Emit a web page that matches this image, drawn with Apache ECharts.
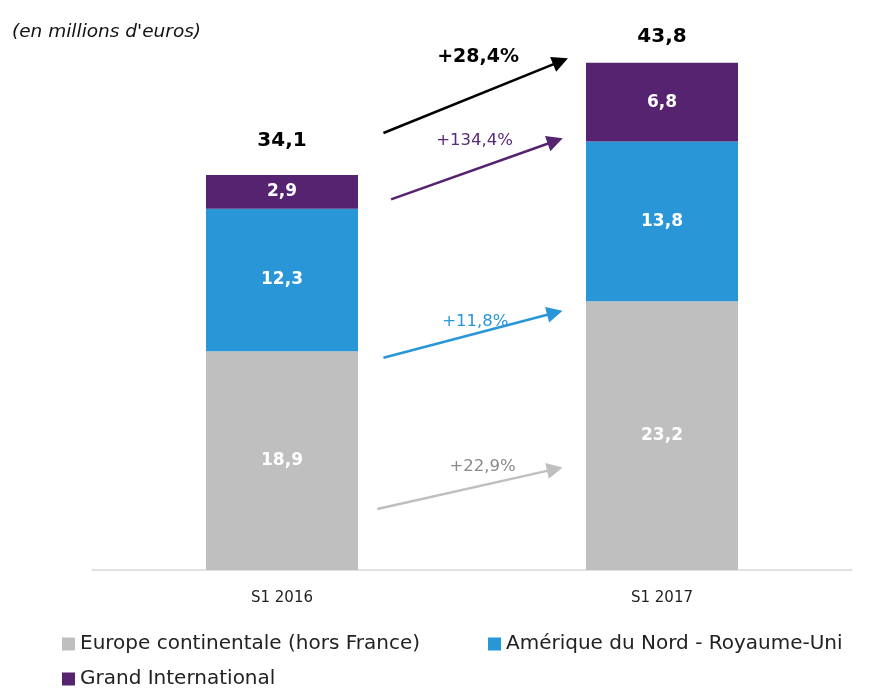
<!DOCTYPE html>
<html>
<head>
<meta charset="utf-8">
<title>Chiffre d'affaires S1</title>
<script src="https://cdn.jsdelivr.net/npm/echarts@6/dist/echarts.min.js"></script>
<style>
    html, body { margin: 0; padding: 0; background: #ffffff; }
    #chart { width: 886px; height: 688px; }
</style>
</head>
<body>
<div id="chart"></div>
<script>
// ============================================
// Données
// ============================================
const categories = ['S1 2016', 'S1 2017'];
const europe = [18.9, 23.2];
const amerique = [12.3, 13.8];
const grandInt = [2.9, 6.8];
const totals = [34.1, 43.8];

const seriesNames = [
    'Europe continentale (hors France)',
    'Amérique du Nord - Royaume-Uni',
    'Grand International'
];

// croissances, du bas vers le haut
const growthLabels = ['+22,9%', '+11,8%', '+134,4%', '+28,4%'];

// flèches d'annotation (axe x caché 0..2, axe y en millions)
const arrowFrom = [[0.751, 5.27], [0.767, 18.33], [0.787, 32.01], [0.767, 37.74]];
const arrowTo = [[1.218, 8.71], [1.218, 22.22], [1.219, 37.05], [1.233, 43.93]];
const labelAt = [[1.028, 8.93], [1.009, 21.44], [1.007, 37.05], [1.016, 44.33]];

// ============================================
// Styles
// ============================================
const FONT = '"DejaVu Sans", sans-serif';
const colors = ['#bfbfbf', '#2896d7', '#55236f'];
const arrowColors = ['#bfbfbf', '#2896d7', '#55236f', '#000000'];
const growthColors = ['#8a8a8a', '#2896d7', '#5a2a7a', '#000000'];

function fmt(v) {
    return v.toFixed(1).replace('.', ',');
}

function barSeries(name, data, color) {
    return {
        name: name,
        type: 'bar',
        stack: 'total',
        barWidth: 152,
        data: data,
        itemStyle: { color: color },
        label: {
            show: true,
            position: 'inside',
            color: '#ffffff',
            fontFamily: FONT,
            fontSize: 17,
            fontWeight: 'bold',
            formatter: p => fmt(p.value)
        }
    };
}

const chart = echarts.init(document.getElementById('chart'));

const option = {
    animation: false,
    backgroundColor: '#ffffff',
    title: {
        text: "(en millions d'euros)",
        left: 7,
        top: 18,
        textStyle: {
            fontFamily: FONT,
            fontStyle: 'italic',
            fontWeight: 'normal',
            fontSize: 18.5,
            color: '#111111'
        }
    },
    legend: [
        { data: [seriesNames[0]], left: 62, top: 634 },
        { data: [seriesNames[1]], left: 488, top: 634 },
        { data: [seriesNames[2]], left: 62, top: 669 }
    ].map(l => Object.assign(l, {
        icon: 'rect',
        itemWidth: 13,
        itemHeight: 13,
        padding: 0,
        itemStyle: { opacity: 1 },
        textStyle: { fontFamily: FONT, fontSize: 20, color: '#222222' }
    })),
    grid: { left: 92, right: 34, top: 48.9, bottom: 118 },
    xAxis: [{
        type: 'category',
        data: categories,
        axisTick: { show: false },
        axisLine: { lineStyle: { color: '#d9d9d9', width: 1.5 } },
        axisLabel: { margin: 21, fontFamily: FONT, fontSize: 15, color: '#222222' }
    }, {
        type: 'value',
        min: 0,
        max: 2,
        show: false
    }],
    yAxis: {
        type: 'value',
        min: 0,
        max: 45,
        show: false
    },
    series: [
        barSeries(seriesNames[0], europe, colors[0]),
        barSeries(seriesNames[1], amerique, colors[1]),
        barSeries(seriesNames[2], grandInt, colors[2]),
        {
            // totaux au-dessus des barres
            type: 'scatter',
            symbolSize: 0,
            silent: true,
            itemStyle: { opacity: 1 },
            data: totals.map((v, i) => ({
                value: [i, v],
                label: { distance: i === 0 ? 24 : 16 }
            })),
            label: {
                show: true,
                position: 'top',
                color: '#000000',
                fontFamily: FONT,
                fontSize: 20,
                fontWeight: 'bold',
                formatter: p => fmt(p.value[1])
            }
        },
        {
            // flèches de croissance
            type: 'lines',
            coordinateSystem: 'cartesian2d',
            xAxisIndex: 1,
            silent: true,
            symbol: ['none', 'triangle'],
            symbolSize: [14, 16],
            data: arrowFrom.map((from, i) => ({
                coords: [from, arrowTo[i]],
                lineStyle: { color: arrowColors[i], width: 2.5, opacity: 1 }
            }))
        },
        {
            // libellés de croissance
            type: 'scatter',
            xAxisIndex: 1,
            symbolSize: 0,
            silent: true,
            z: 5,
            itemStyle: { opacity: 1 },
            data: labelAt.map((pos, i) => ({
                value: pos,
                label: {
                    color: growthColors[i],
                    fontWeight: i === 3 ? 'bold' : 'normal',
                    fontSize: i === 3 ? 19 : 16.5
                }
            })),
            label: {
                show: true,
                position: 'inside',
                fontFamily: FONT,
                formatter: p => growthLabels[p.dataIndex]
            }
        }
    ]
};

chart.setOption(option);
</script>
</body>
</html>
